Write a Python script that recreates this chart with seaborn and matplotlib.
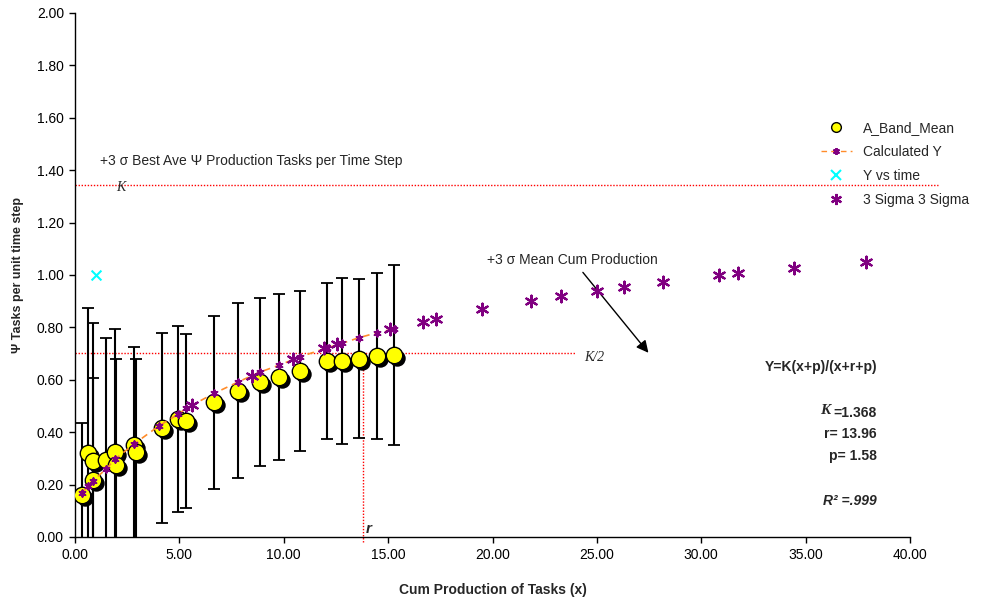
import numpy as np
import matplotlib
matplotlib.use("Agg")
import matplotlib.pyplot as plt
import matplotlib.transforms as mtransforms
from matplotlib.lines import Line2D
import pandas as pd
import seaborn as sns

### Data
## A_Band_Mean points with symmetric error bars
band_x = [0.32, 0.64, 0.85, 0.88, 1.47, 1.92, 1.96, 2.83, 2.92, 4.15, 4.95, 5.32,
          6.66, 7.82, 8.84, 9.79, 10.78, 12.09, 12.78, 13.62, 14.48, 15.29]
band_mean = [0.160, 0.319, 0.290, 0.218, 0.294, 0.326, 0.275, 0.351, 0.324, 0.416, 0.452, 0.442,
             0.515, 0.558, 0.591, 0.611, 0.634, 0.672, 0.672, 0.681, 0.690, 0.695]
band_err = [0.276, 0.554, 0.526, 0.390, 0.464, 0.467, 0.405, 0.375, 0.355, 0.361, 0.355, 0.332,
            0.330, 0.334, 0.320, 0.317, 0.305, 0.299, 0.318, 0.303, 0.317, 0.343]

## Calculated Y (fitted curve at the band x values)
calc_x = [0.32, 0.64, 0.85, 1.47, 1.92, 2.83, 4.02, 4.95, 5.32, 6.66, 7.82, 8.84,
          9.79, 10.78, 12.09, 12.78, 13.62, 14.48, 15.29]
calc_y = [0.167, 0.195, 0.214, 0.258, 0.297, 0.355, 0.424, 0.469, 0.491, 0.548, 0.592, 0.629,
          0.656, 0.688, 0.722, 0.739, 0.761, 0.780, 0.794]

## Y vs time
time_x = [1.0]
time_y = [1.0]

## 3 Sigma 3 Sigma
sig_x = [5.62, 8.47, 10.46, 11.93, 12.54, 15.09, 16.66, 17.28, 19.52, 21.84, 23.27, 25.0,
         26.31, 28.16, 30.87, 31.78, 34.45, 37.89]
sig_y = [0.504, 0.616, 0.678, 0.720, 0.736, 0.794, 0.822, 0.832, 0.869, 0.902, 0.921, 0.940,
         0.955, 0.974, 0.999, 1.006, 1.026, 1.048]

## Reference lines / fit values
k_level = 1.343
half_k_level = 0.701
r_value = 13.8

### Style
sns.set_theme(style="white")
plt.rcParams['font.family'] = ['Liberation Sans', 'DejaVu Sans']

PURPLE = '#800080'
ORANGE = '#FF8C2A'
YELLOW = '#FFFF00'
CYAN = '#00FFFF'
RED = '#FF0000'
ASTER = (6, 2, 0)
DOTS = (0, (1, 1.2))

fig = plt.figure(figsize=(9.81, 6.03), dpi=100)
ax = fig.add_axes([75/981, 1 - 537/603, (910 - 75)/981, (537 - 13)/603])

band_df = pd.DataFrame({'x': band_x, 'y': band_mean, 'err': band_err})
calc_df = pd.DataFrame({'x': calc_x, 'y': calc_y})
sig_df = pd.DataFrame({'x': sig_x, 'y': sig_y})
time_df = pd.DataFrame({'x': time_x, 'y': time_y})

## Error bars
ax.errorbar(band_df['x'], band_df['y'], yerr=band_df['err'], fmt='none',
            ecolor='black', elinewidth=1.5, capsize=4.5, capthick=1.3, zorder=2)

## Circles with a drop shadow
shadow = mtransforms.offset_copy(ax.transData, fig=fig, x=3, y=-3, units='dots')
ax.scatter(band_df['x'], band_df['y'], s=140, color='black', linewidths=0,
           transform=shadow, zorder=3)
sns.scatterplot(data=band_df, x='x', y='y', ax=ax, s=140, color=YELLOW,
                edgecolor='black', linewidth=1.0, zorder=4, legend=False)

## Calculated Y
sns.lineplot(data=calc_df, x='x', y='y', ax=ax, color=ORANGE, linewidth=1.2,
             dashes=False, zorder=5, legend=False, sort=False)
ax.lines[-1].set_linestyle((0, (4, 3)))
ax.scatter(calc_df['x'], calc_df['y'], marker=ASTER, s=22, color=PURPLE,
           linewidths=1.4, zorder=6)

## Y vs time
ax.scatter(time_df['x'], time_df['y'], marker='x', s=50, color=CYAN,
           linewidths=1.5, zorder=6)

## 3 Sigma points
ax.scatter(sig_df['x'], sig_df['y'], marker=ASTER, s=70, color=PURPLE,
           linewidths=1.6, zorder=6)

## Reference lines
ax.plot([0, 41.35], [k_level, k_level], color=RED, lw=1.0, ls=DOTS,
        clip_on=False, zorder=1)
ax.plot([0, 23.96], [half_k_level, half_k_level], color=RED, lw=1.0, ls=DOTS, zorder=1)
ax.plot([r_value, r_value], [-0.02, half_k_level], color=RED, lw=1.0, ls=DOTS,
        clip_on=False, zorder=1)

## Annotations
ax.text(1.2, 1.435, "+3 σ Best Ave Ψ Production Tasks per Time Step", fontsize=10,
        ha='left', va='center')
ax.text(2.2, 1.335, "K", fontsize=10, family='Liberation Serif', style='italic',
        ha='center', va='center')
ax.text(24.4, 0.687, "K/2", fontsize=10, family='Liberation Serif', style='italic',
        ha='left', va='center')
ax.text(13.95, 0.005, "r", fontsize=11, weight='bold', style='italic',
        ha='left', va='bottom')
ax.text(19.74, 1.057, "+3 σ Mean Cum Production", fontsize=10, ha='left', va='center')
ax.annotate("", xy=(27.47, 0.703), xytext=(24.33, 1.01),
            arrowprops=dict(arrowstyle='-|>', color='black', lw=1.0,
                            mutation_scale=18, shrinkA=0, shrinkB=0))

## Fit equation block
ex = 877/981
fig.text(ex, 1 - 367/603, "Y=K(x+p)/(x+r+p)", fontsize=10, weight='bold', ha='right', va='center')
kt = fig.text(ex, 1 - 413/603, "=1.368", fontsize=10, weight='bold', ha='right', va='center')
ax.annotate("K", xy=(0, 0.5), xycoords=kt, xytext=(-2.5, 2), textcoords='offset points',
            fontsize=11, weight='bold', style='italic',
            family='Liberation Serif', ha='right', va='center')
fig.text(ex, 1 - 434/603, "r= 13.96", fontsize=10, weight='bold', ha='right', va='center')
fig.text(ex, 1 - 456/603, "p= 1.58", fontsize=10, weight='bold', ha='right', va='center')
fig.text(ex, 1 - 501/603, "R² =.999", fontsize=10, weight='bold', style='italic',
         ha='right', va='center')

## Axes
ax.set_xlim(0, 40)
ax.set_ylim(0, 2)
ax.set_xticks(np.arange(0, 41, 5))
ax.set_yticks(np.arange(0, 2.01, 0.2))
ax.xaxis.set_major_formatter(matplotlib.ticker.FormatStrFormatter('%.2f'))
ax.yaxis.set_major_formatter(matplotlib.ticker.FormatStrFormatter('%.2f'))
ax.tick_params(axis='both', direction='out', length=4, width=1, color='black',
               labelsize=10, labelcolor='black', bottom=True, left=True, pad=4)
for side in ['top', 'right']:
    ax.spines[side].set_visible(False)
for side in ['left', 'bottom']:
    ax.spines[side].set_color('black')
    ax.spines[side].set_linewidth(1.0)
ax.set_xlabel("Cum Production of Tasks (x)", fontsize=10, weight='bold', labelpad=15)
ax.set_ylabel("Ψ Tasks per unit time step", fontsize=9, weight='bold', labelpad=9)
ax.grid(False)

## Legend
handles = [
    Line2D([], [], ls='none', marker='o', ms=7, mfc=YELLOW, mec='black', mew=1.0),
    Line2D([], [], ls=(0, (4, 3)), color=ORANGE, lw=1.0, marker=ASTER, ms=5,
           mec=PURPLE, mfc=PURPLE, mew=1.4),
    Line2D([], [], ls='none', marker='x', ms=7, mec=CYAN, mew=1.5),
    Line2D([], [], ls='none', marker=ASTER, ms=8, mec=PURPLE, mew=1.6),
]
labels = ["A_Band_Mean", "Calculated Y", "Y vs time", "3 Sigma 3 Sigma"]
fig.legend(handles, labels, loc='upper left', bbox_to_anchor=(821/981, 1 - 121/603),
           frameon=False, fontsize=10, borderpad=0, borderaxespad=0,
           handlelength=2.2, handletextpad=0.8, labelspacing=0.72)

fig.savefig("out.png", dpi=100)
